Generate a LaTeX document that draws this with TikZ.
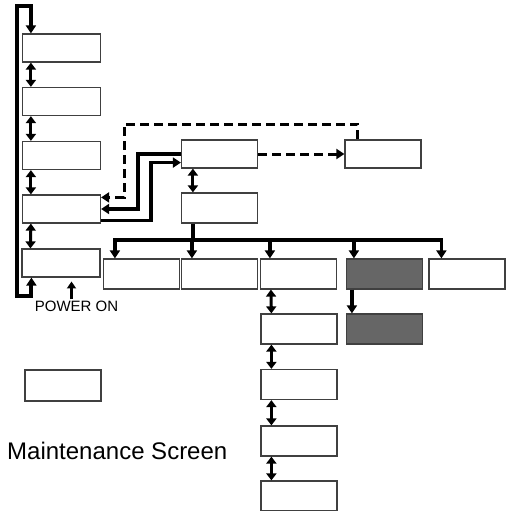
\documentclass[tikz,border=0pt]{standalone}
\usepackage{fontspec}
\setmainfont{Liberation Sans}
\usetikzlibrary{arrows.meta}

\begin{document}
\begin{tikzpicture}[x=1pt, y=-1pt,
    box/.style={draw=black!75, line width=1.2pt, minimum width=76pt, minimum height=28pt, inner sep=0pt},
    darkbox/.style={box, fill=black!60},
    arr/.style={line width=3.5pt, line join=miter, -{Triangle[length=8pt,width=10pt]}},
    dblarr/.style={line width=3pt, {Triangle[length=7pt,width=10pt]}-{Triangle[length=7pt,width=10pt]}},
    backline/.style={line width=4pt, line join=miter, {Triangle[length=8pt,width=10pt]}-{Triangle[length=8pt,width=10pt]}},
    dsh/.style={line width=3pt, dash pattern=on 9pt off 5pt, -{Triangle[length=8pt,width=10pt]}}]
    \path[use as bounding box, clip] (0,0) rectangle (506,511);

    % Left column of screens
    \node[box, minimum width=78pt] (m1) at (61.5,48) {};
    \node[box, minimum width=78pt] (m2) at (61.5,101.5) {};
    \node[box, minimum width=78pt] (m3) at (61.5,155.5) {};
    \node[box, minimum width=78pt] (m4) at (61.5,209) {};
    \node[box, minimum width=78pt] (m5) at (61,263) {};
    \foreach \a/\b in {m1/m2, m2/m3, m3/m4, m4/m5}
        \draw[dblarr] ([xshift=9pt]\a.south west) -- ([xshift=9pt]\b.north west);

    % Loop back from the last screen to the first
    \coordinate (lb) at (17,296);
    \coordinate (lt) at (17,6);
    \draw[backline] ([xshift=10pt]m5.south west) |- (lb) -- (lt) -| ([xshift=9pt]m1.north west);

    % Power on
    \node[font=\fontsize{15}{17}\selectfont, inner sep=1pt] (pwr) at (76.5,306) {POWER ON};
    \draw[line width=2.8pt, -{Triangle[length=7pt,width=9pt]}] ([xshift=-5pt]pwr.north) -- ++(0,-18);

    % Middle screens
    \node[box] (A) at (219.5,154) {};
    \node[box] (B) at (383,154) {};
    \node[box, minimum height=30pt] (C) at (219.5,208) {};
    \draw[dblarr] ([xshift=12pt]A.south west) -- ([xshift=12pt]C.north west);

    % Links between screen 4 and A
    \draw[arr] (A.west) -- ++(-43,0) |- (m4.east);
    \draw[arr] ([yshift=3pt]m4.south east) -- ++(50,0) |- ([yshift=6pt]A.south west);

    % Dashed paths
    \coordinate (dl) at (124,124);
    \draw[dsh] (A.east) -- (B.west);
    \draw[dsh] ([xshift=13pt]B.north west) |- (dl) |- ([yshift=-3pt]m4.north east);

    % Row of screens under C
    \node[box, minimum height=30pt] (r1) at (141.5,274) {};
    \node[box, minimum height=30pt] (r2) at (219.5,274) {};
    \node[box, minimum height=30pt] (r3) at (298.5,274) {};
    \node[darkbox, minimum height=30pt] (r4) at (384.5,274) {};
    \node[box, minimum height=30pt] (r5) at (467,274) {};

    \coordinate (bus) at (0,240);
    \draw[line width=3.5pt] ([xshift=12pt]C.south west) -- ++(0,17);
    \foreach \r/\dx in {r1/12, r2/11, r3/10, r4/8, r5/13}{
        \coordinate (t\r) at ([xshift=\dx pt]\r.north west);
        \draw[arr] (t\r |- bus) -- (t\r);
    }
    \draw[line width=3.5pt, line cap=rect] (tr1 |- bus) -- (tr5 |- bus);

    % Column under r3
    \node[box, minimum height=30pt] (c1) at (299,329) {};
    \node[box, minimum height=30pt] (c2) at (299,384.5) {};
    \node[box, minimum height=30pt] (c3) at (299,441) {};
    \node[box, minimum height=30pt] (c4) at (299,496) {};
    \foreach \a/\b in {r3/c1, c1/c2, c2/c3, c3/c4}
        \draw[dblarr] ([xshift=11pt]\a.south west) -- ([xshift=11pt]\b.north west);

    % Dark screen under r4
    \node[darkbox, minimum height=30pt] (d2) at (384.5,329) {};
    \draw[arr] ([xshift=6pt]r4.south west) -- ([xshift=6pt]d2.north west);

    % Legend
    \node[box, minimum height=31pt] (sm) at (63,385.5) {};
    \node[font=\fontsize{24}{28}\selectfont, anchor=west, inner sep=0pt] (mtxt) at (7,451) {Maintenance Screen};
\end{tikzpicture}
\end{document}
